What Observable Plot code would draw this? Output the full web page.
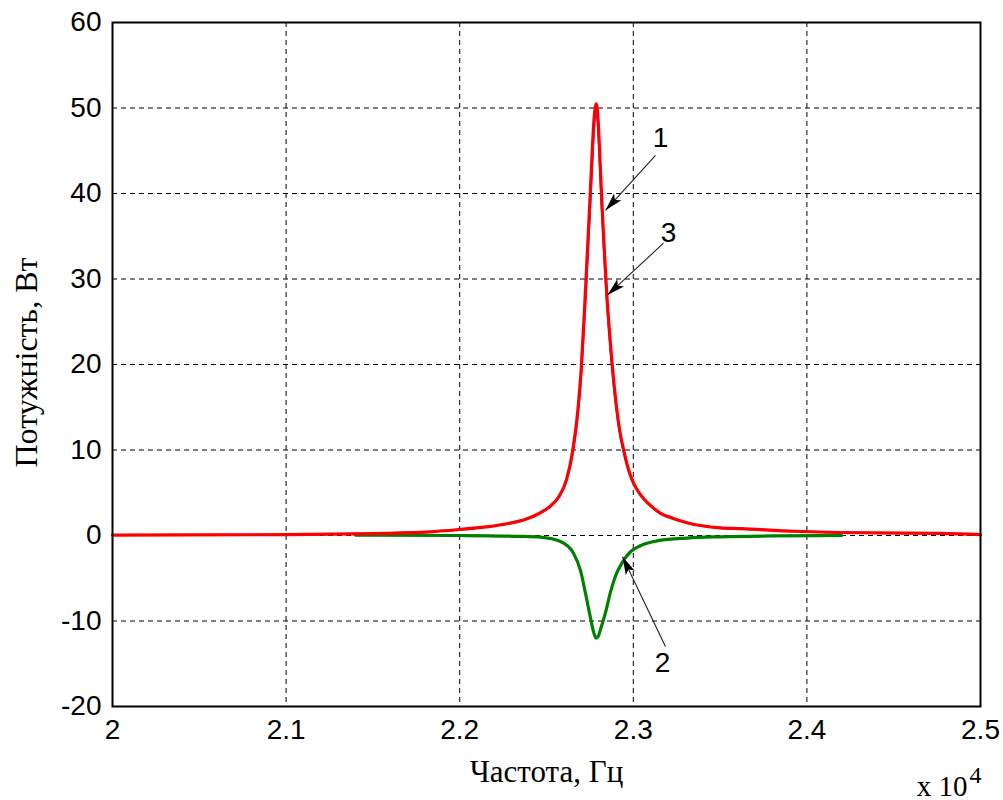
<!DOCTYPE html>
<html>
<head>
<meta charset="utf-8">
<script src="https://cdn.jsdelivr.net/npm/d3@7"></script>
<script src="https://cdn.jsdelivr.net/npm/@observablehq/plot@0.6"></script>
<style>
  html, body { margin: 0; padding: 0; background: #fff; }
  #chart svg { display: block; }
</style>
</head>
<body>
<div id="chart"></div>
<script>
// Frequency in units of 10^4 Hz, power in W
const freqRed = [2.00, 2.10, 2.14, 2.18, 2.20, 2.215, 2.228, 2.238, 2.246, 2.252, 2.257, 2.2615, 2.2650, 2.2680, 2.2700, 2.2718, 2.2735, 2.2752, 2.2766, 2.2777, 2.2786, 2.2796, 2.2808, 2.2820, 2.2834, 2.2848, 2.2866, 2.2890, 2.2920, 2.2950, 2.2984, 2.302, 2.306, 2.311, 2.3157, 2.323, 2.331, 2.350, 2.362, 2.393, 2.44, 2.477, 2.50];
const powRed  = [0.05, 0.1, 0.2, 0.4, 0.7, 1.0, 1.4, 1.9, 2.6, 3.4, 4.5, 6.5, 9.8, 14.5, 19.5, 26, 33, 40, 46, 49.5, 50.5, 49, 44, 38.5, 33, 28, 23, 17.5, 12.5, 9.5, 7.0, 5.4, 4.3, 3.3, 2.6, 2.0, 1.5, 0.9, 0.8, 0.5, 0.3, 0.25, 0.1];

const freqBlue = [2.00, 2.10, 2.14, 2.18, 2.20, 2.215, 2.228, 2.238, 2.246, 2.252, 2.257, 2.2615, 2.2652, 2.2682, 2.2702, 2.2720, 2.2738, 2.2755, 2.2768, 2.2778, 2.2786, 2.2795, 2.2806, 2.2818, 2.2832, 2.2846, 2.2864, 2.2888, 2.2918, 2.2948, 2.2982, 2.302, 2.306, 2.311, 2.3157, 2.323, 2.331, 2.350, 2.362, 2.393, 2.44, 2.477, 2.50];
const powBlue  = [0.05, 0.1, 0.2, 0.4, 0.7, 1.0, 1.4, 1.9, 2.6, 3.4, 4.5, 6.5, 9.8, 14.5, 19.5, 26, 33, 40, 45.5, 48.8, 49.8, 48.4, 44, 38.5, 33, 28, 23, 17.5, 12.5, 9.5, 7.0, 5.4, 4.3, 3.3, 2.6, 2.0, 1.5, 0.9, 0.8, 0.5, 0.3, 0.25, 0.1];

const freqGreen = [2.14, 2.20, 2.235, 2.2465, 2.2581, 2.2656, 2.2696, 2.2725, 2.2753, 2.2770, 2.2785, 2.2798, 2.2811, 2.2840, 2.2869, 2.2898, 2.2938, 2.2984, 2.3041, 2.3145, 2.331, 2.350, 2.380, 2.420];
const powGreen  = [0.05, 0.0, -0.1, -0.2, -0.7, -2.1, -4.1, -6.8, -9.6, -11.2, -12.0, -11.8, -11.0, -9.0, -6.6, -4.7, -3.1, -1.9, -1.2, -0.6, -0.3, -0.15, -0.05, 0.0];

const xTicks = [2, 2.1, 2.2, 2.3, 2.4, 2.5];
const xTickLabels = ["2", "2.1", "2.2", "2.3", "2.4", "2.5"];
const yTicks = [-20, -10, 0, 10, 20, 30, 40, 50, 60];
const yTickLabels = ["-20", "-10", "0", "10", "20", "30", "40", "50", "60"];
const xGrid = [2.1, 2.2, 2.3, 2.4];
const yGrid = [-10, 0, 10, 20, 30, 40, 50];

// Curve-number annotations (data units)
const annLabels = ["1", "3", "2"];
const annLabelX = [2.3157, 2.3203, 2.3168];
const annLabelY = [46.45, 35.36, -14.86];
const arrTailX = [2.3128, 2.3174, 2.3185];
const arrTailY = [44.47, 34.19, -12.99];
const arrHeadX = [2.2840, 2.2851, 2.2938];
const arrHeadY = [38.04, 28.12, -2.48];

const xLabel = "Частота, Гц";
const yLabel = "Потужність, Вт";

const red = freqRed.map((f, i) => ({f, p: powRed[i]}));
const blue = freqBlue.map((f, i) => ({f, p: powBlue[i]}));
const green = freqGreen.map((f, i) => ({f, p: powGreen[i]}));
const ann = annLabels.map((t, i) => ({
  t, lx: annLabelX[i], ly: annLabelY[i],
  x1: arrTailX[i], y1: arrTailY[i], x2: arrHeadX[i], y2: arrHeadY[i]
}));

const tickFont = "'Liberation Sans', Arial, sans-serif";
const serifFont = "'Liberation Serif', 'Times New Roman', serif";

const chart = Plot.plot({
  width: 1003,
  height: 800,
  marginLeft: 112,
  marginRight: 23,
  marginTop: 22,
  marginBottom: 94,
  style: {fontFamily: tickFont, background: "#fff", color: "#000"},
  x: {domain: [2, 2.5]},
  y: {domain: [-20, 60]},
  marks: [
    Plot.gridX(xGrid, {stroke: "#000", strokeOpacity: 1, strokeWidth: 1, strokeDasharray: "5,4"}),
    Plot.gridY(yGrid, {stroke: "#000", strokeOpacity: 1, strokeWidth: 1, strokeDasharray: "5,4"}),
    Plot.axisX(xTicks, {tickSize: 0, tickPadding: 13, fontSize: 28, fontFamily: tickFont,
      tickFormat: (d) => xTickLabels[xTicks.indexOf(d)], label: null}),
    Plot.axisY(yTicks, {tickSize: 0, tickPadding: 11, fontSize: 28, fontFamily: tickFont,
      tickFormat: (d) => yTickLabels[yTicks.indexOf(d)], label: null}),
    Plot.line(green, {x: "f", y: "p", stroke: "#008000", strokeWidth: 3.2, curve: "monotone-x"}),
    Plot.line(blue, {x: "f", y: "p", stroke: "#0000ff", strokeWidth: 2, curve: "monotone-x"}),
    Plot.line(red, {x: "f", y: "p", stroke: "#ff0000", strokeWidth: 3.2, curve: "monotone-x"}),
    Plot.frame({stroke: "#000", strokeWidth: 2}),
    Plot.link(ann, {x1: "x1", y1: "y1", x2: "x2", y2: "y2", stroke: "#222", strokeWidth: 1.1, className: "arr"}),
    Plot.text(ann, {x: "lx", y: "ly", text: "t", fontSize: 28, fontFamily: tickFont, fill: "#000"}),
    Plot.text([xLabel], {frameAnchor: "bottom", dy: 66, fontSize: 31, fontFamily: serifFont, fill: "#000", lineAnchor: "middle"}),
    Plot.text([yLabel], {frameAnchor: "left", dx: -86, dy: -2, rotate: -90, textAnchor: "middle", fontSize: 32, fontFamily: serifFont, fill: "#000", lineAnchor: "middle"}),
    Plot.text(["x 10"], {frameAnchor: "bottom-right", dx: -13, dy: 89, textAnchor: "end", lineAnchor: "bottom", fontSize: 29, fontFamily: serifFont, fill: "#000"}),
    Plot.text(["4"], {frameAnchor: "bottom-right", dx: -5, dy: 76, textAnchor: "middle", lineAnchor: "bottom", fontSize: 24, fontFamily: serifFont, fill: "#000"})
  ]
});

// Filled arrowheads for annotation links
const ns = "http://www.w3.org/2000/svg";
const defs = document.createElementNS(ns, "defs");
const marker = document.createElementNS(ns, "marker");
marker.setAttribute("id", "ahead");
marker.setAttribute("viewBox", "0 0 18 10");
marker.setAttribute("refX", "18");
marker.setAttribute("refY", "5");
marker.setAttribute("markerWidth", "18");
marker.setAttribute("markerHeight", "10");
marker.setAttribute("markerUnits", "userSpaceOnUse");
marker.setAttribute("orient", "auto");
const mpath = document.createElementNS(ns, "path");
mpath.setAttribute("d", "M0,0L18,5L0,10L4,5z");
mpath.setAttribute("fill", "#000");
marker.appendChild(mpath);
defs.appendChild(marker);
chart.insertBefore(defs, chart.firstChild);
chart.querySelectorAll(".arr path, .arr line").forEach(p => p.setAttribute("marker-end", "url(#ahead)"));

document.getElementById("chart").appendChild(chart);
</script>
</body>
</html>
